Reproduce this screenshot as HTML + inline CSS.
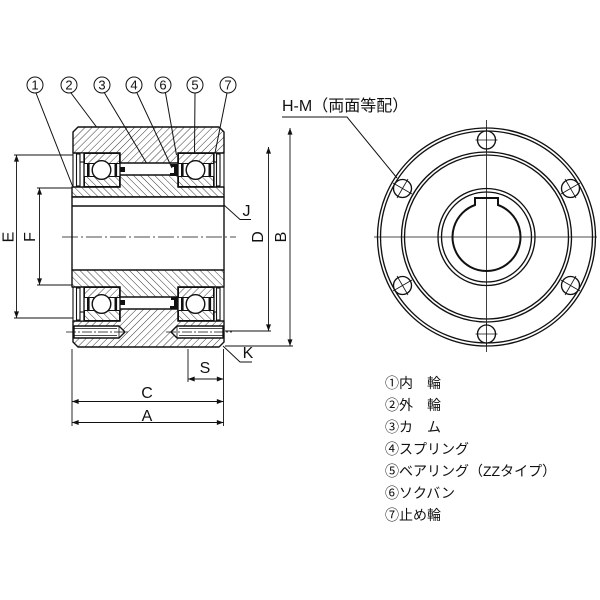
<!DOCTYPE html>
<html><head><meta charset="utf-8">
<style>
html,body{margin:0;padding:0;background:#fff;}
svg{display:block;}
text{font-family:"Liberation Sans","Noto Sans CJK JP",sans-serif;fill:#111;}
</style></head><body>
<svg width="600" height="600" viewBox="0 0 600 600" xmlns="http://www.w3.org/2000/svg">
<defs>
<pattern id="h1" patternUnits="userSpaceOnUse" width="5" height="5" patternTransform="rotate(45)">
<line x1="0" y1="0" x2="0" y2="5" stroke="#222" stroke-width="0.9"/>
</pattern>
<pattern id="h2" patternUnits="userSpaceOnUse" width="5" height="5" patternTransform="rotate(-45)">
<line x1="0" y1="0" x2="0" y2="5" stroke="#222" stroke-width="0.9"/>
</pattern>
<marker id="ar" viewBox="0 0 8 6" refX="8" refY="3" markerWidth="7" markerHeight="5" markerUnits="userSpaceOnUse" orient="auto-start-reverse">
<path d="M0,0 L8,3 L0,6 z" fill="#111"/>
</marker>
<g id="brg">
<rect x="0" y="0" width="36" height="34" fill="#fff" stroke="#111" stroke-width="1.3"/>
<rect x="0.5" y="0.5" width="35" height="10" fill="url(#h1)" stroke="#111" stroke-width="1"/>
<rect x="0.5" y="23.5" width="35" height="10" fill="url(#h2)" stroke="#111" stroke-width="1"/>
<circle cx="17.5" cy="17" r="9.3" fill="#fff" stroke="#111" stroke-width="1.4"/>
<rect x="3" y="10" width="2.6" height="14" fill="#111"/>
<rect x="30.5" y="10" width="2.6" height="14" fill="#111"/>
</g>
</defs>

<!-- ===== LEFT SECTION VIEW ===== -->
<g stroke="#111" stroke-width="1.4" stroke-linejoin="round">
<polygon points="73,132 78,127 219,127 224,132 224,153 178,153 178,163 120,163 120,153 73,153" fill="url(#h1)"/>
<polygon points="72,187 120,187 120,175 178,175 178,187 224,187 224,197 72,197" fill="url(#h2)"/>
<rect x="72" y="197" width="152" height="9" fill="#fff"/>
<line x1="72" y1="206" x2="72" y2="270"/>
<line x1="224" y1="206" x2="224" y2="270"/>
<polygon points="72,270 224,270 224,287 178,287 178,297 120,297 120,287 72,287" fill="url(#h2)"/>
<polygon points="73,321 120,321 120,309 178,309 178,321 224,321 224,342 219,347 78,347 73,342" fill="url(#h1)"/>
<path d="M74,326 H119 L125,332 L119,338 H74 Z" fill="#fff"/>
<path d="M223,326 H177 L171,332 L177,338 H223 Z" fill="#fff"/>
</g>
<g stroke="#111" stroke-width="0.8">
<line x1="74" y1="328.5" x2="117" y2="328.5"/>
<line x1="74" y1="335.5" x2="117" y2="335.5"/>
<line x1="179" y1="328.5" x2="223" y2="328.5"/>
<line x1="179" y1="335.5" x2="223" y2="335.5"/>
<line x1="119" y1="326" x2="119" y2="338"/>
<line x1="177" y1="326" x2="177" y2="338"/>
</g>
<line x1="66" y1="332" x2="130" y2="332" stroke="#111" stroke-width="0.7" stroke-dasharray="10 2 2 2"/>
<line x1="166" y1="332" x2="232" y2="332" stroke="#111" stroke-width="0.7" stroke-dasharray="10 2 2 2"/>

<g stroke="#111" stroke-width="1.1" fill="#fff">
<line x1="73" y1="153" x2="73" y2="187"/>
<rect x="76.5" y="154" width="3.5" height="32"/>
<rect x="80" y="153" width="4" height="9"/>
<line x1="224" y1="153" x2="224" y2="187"/>
<rect x="216.5" y="154" width="3.5" height="32"/>
<rect x="214" y="153" width="2.5" height="9"/>
<line x1="73" y1="287" x2="73" y2="321"/>
<rect x="76.5" y="288" width="3.5" height="32"/>
<rect x="80" y="312" width="4" height="9"/>
<line x1="224" y1="287" x2="224" y2="321"/>
<rect x="216.5" y="288" width="3.5" height="32"/>
<rect x="214" y="312" width="2.5" height="9"/>
</g>

<use href="#brg" x="84" y="153"/>
<use href="#brg" x="178" y="153"/>
<use href="#brg" x="84" y="287"/>
<use href="#brg" x="178" y="287"/>

<g fill="#111">
<rect x="120" y="167" width="5" height="5"/>
<path d="M171,164 h7 v12 h-8 v-3 h4 v-6 h-3 z"/>
<rect x="120" y="300" width="5" height="5"/>
<path d="M171,297 h7 v12 h-8 v-3 h4 v-6 h-3 z"/>
</g>

<line x1="62" y1="237" x2="236" y2="237" stroke="#111" stroke-width="0.8" stroke-dasharray="16 3 2 3"/>

<g stroke="#111" stroke-width="0.9">
<line x1="14" y1="155" x2="73" y2="155"/>
<line x1="14" y1="318" x2="73" y2="318"/>
<line x1="37" y1="188" x2="72" y2="188"/>
<line x1="37" y1="285" x2="72" y2="285"/>
<line x1="225" y1="331" x2="271" y2="331"/>
<line x1="225" y1="346" x2="293" y2="346"/>
<line x1="72" y1="349" x2="72" y2="426"/>
<line x1="223.5" y1="349" x2="223.5" y2="426"/>
<line x1="188" y1="349" x2="188" y2="382"/>
</g>
<g stroke="#111" stroke-width="0.9" marker-start="url(#ar)" marker-end="url(#ar)">
<line x1="16.5" y1="155" x2="16.5" y2="318"/>
<line x1="39.5" y1="188" x2="39.5" y2="285"/>
<line x1="268.5" y1="147" x2="268.5" y2="331"/>
<line x1="290" y1="128" x2="290" y2="346"/>
<line x1="188" y1="379" x2="223.5" y2="379"/>
<line x1="72" y1="401.5" x2="223.5" y2="401.5"/>
<line x1="72" y1="422.5" x2="223.5" y2="422.5"/>
</g>
<polyline points="224,205 240,219.5 251,219.5" fill="none" stroke="#111" stroke-width="0.9"/>
<polyline points="223,346 240,362 252,362" fill="none" stroke="#111" stroke-width="0.9"/>

<g font-size="16">
<text x="13.5" y="237" transform="rotate(-90 13.5 237)" text-anchor="middle">E</text>
<text x="35" y="237" transform="rotate(-90 35 237)" text-anchor="middle">F</text>
<text x="263" y="237" transform="rotate(-90 263 237)" text-anchor="middle">D</text>
<text x="286" y="237" transform="rotate(-90 286 237)" text-anchor="middle">B</text>
<text x="147" y="421" text-anchor="middle">A</text>
<text x="147" y="398" text-anchor="middle">C</text>
<text x="205" y="373" text-anchor="middle">S</text>
<text x="248" y="358" text-anchor="middle">K</text>
<text x="246.5" y="216" text-anchor="middle">J</text>
</g>

<g stroke="#111" stroke-width="1" fill="none">
<circle cx="35" cy="85" r="8"/>
<circle cx="69" cy="85" r="8"/>
<circle cx="102" cy="85" r="8"/>
<circle cx="134" cy="85" r="8"/>
<circle cx="163" cy="85" r="8"/>
<circle cx="195" cy="85" r="8"/>
<circle cx="228" cy="85" r="8"/>
<line x1="36" y1="93" x2="72.5" y2="186"/>
<line x1="71" y1="93" x2="96.5" y2="127"/>
<line x1="104.5" y1="93" x2="146.5" y2="163"/>
<line x1="137" y1="93" x2="172" y2="168"/>
<line x1="165.5" y1="93" x2="176.5" y2="155"/>
<line x1="195" y1="93" x2="194.5" y2="153"/>
<line x1="227" y1="93" x2="215" y2="153"/>
</g>
<g font-size="13" text-anchor="middle">
<text x="35" y="89.5">1</text>
<text x="69" y="89.5">2</text>
<text x="102" y="89.5">3</text>
<text x="134" y="89.5">4</text>
<text x="163" y="89.5">6</text>
<text x="195" y="89.5">5</text>
<text x="228" y="89.5">7</text>
</g>

<!-- ===== RIGHT END VIEW ===== -->
<g stroke="#111" stroke-width="0.8">
<line x1="374" y1="237" x2="597" y2="237"/>
<line x1="486.5" y1="120" x2="486.5" y2="352"/>
</g>
<g stroke="#111" stroke-width="1.35" fill="none">
<circle cx="486.5" cy="237" r="109"/>
<circle cx="486.5" cy="237" r="106"/>
<circle cx="486.5" cy="237" r="85"/>
<circle cx="486.5" cy="237" r="82"/>
<circle cx="486.5" cy="237" r="48.5"/>
<circle cx="486.5" cy="237" r="45"/>
<path d="M475,205 A34 34 0 1 0 498,205 L498,198 L475,198 Z" stroke-width="2"/>
</g>
<g stroke="#111" stroke-width="1.35" fill="#fff">
<circle cx="486.5" cy="140" r="9"/>
<circle cx="570.5" cy="188.5" r="9"/>
<circle cx="570.5" cy="285.5" r="9"/>
<circle cx="486.5" cy="334" r="9"/>
<circle cx="402.5" cy="188.5" r="9"/>
<circle cx="402.5" cy="285.5" r="9"/>
</g>
<g stroke="#111" stroke-width="0.8">
<line x1="486.5" y1="129" x2="486.5" y2="151"/><line x1="475.5" y1="140" x2="497.5" y2="140"/>
<line x1="561" y1="194" x2="580" y2="183"/><line x1="565" y1="179" x2="576" y2="198"/>
<line x1="561" y1="280" x2="580" y2="291"/><line x1="576" y1="276" x2="565" y2="295"/>
<line x1="486.5" y1="323" x2="486.5" y2="345"/><line x1="475.5" y1="334" x2="497.5" y2="334"/>
<line x1="412" y1="194" x2="393" y2="183"/><line x1="408" y1="179" x2="397" y2="198"/>
<line x1="412" y1="280" x2="393" y2="291"/><line x1="397" y1="276" x2="408" y2="295"/>
</g>

<text x="282" y="111" font-size="16">H-M（両面等配）</text>
<polyline points="282,117 347,117 397,178" fill="none" stroke="#111" stroke-width="1"/>

<g font-size="14">
<text x="385" y="388">①内　輪</text>
<text x="385" y="410">②外　輪</text>
<text x="385" y="432">③カ　ム</text>
<text x="385" y="454">④スプリング</text>
<text x="385" y="476">⑤ベアリング（ZZタイプ）</text>
<text x="385" y="498">⑥ソクバン</text>
<text x="385" y="520">⑦止め輪</text>
</g>
</svg>
</body></html>
